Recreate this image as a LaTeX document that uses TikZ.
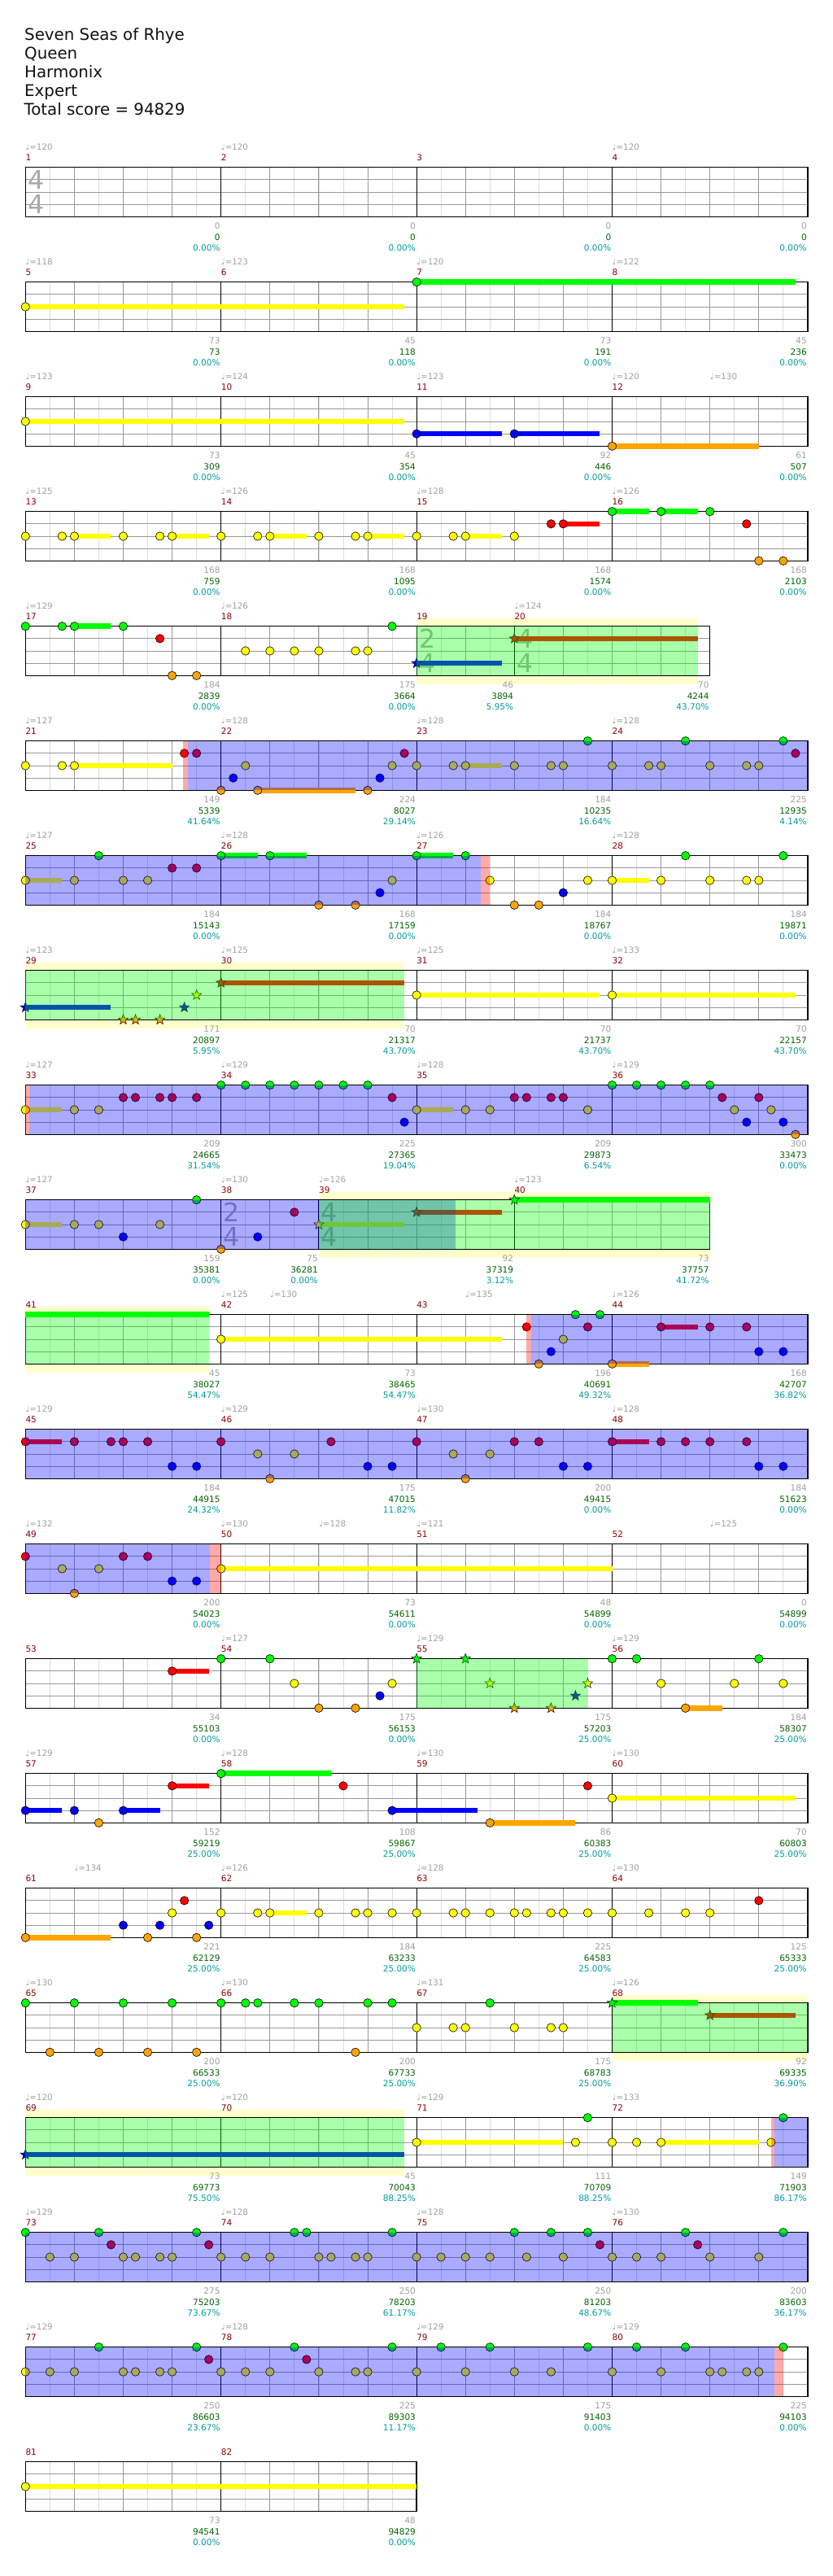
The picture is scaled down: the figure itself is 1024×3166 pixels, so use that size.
\documentclass[tikz,border=0pt]{standalone}
\usepackage{fontspec}
\usetikzlibrary{shapes.geometric}
\newfontfamily\dvs{DejaVu Sans}
\definecolor{lane0}{HTML}{00FF00}
\definecolor{lane1}{HTML}{FF0000}
\definecolor{lane2}{HTML}{FFFF00}
\definecolor{lane3}{HTML}{0000FF}
\definecolor{lane4}{HTML}{FFA500}
\definecolor{tempoc}{HTML}{A0A0A0}
\definecolor{mnumc}{HTML}{8B0000}
\definecolor{scorec}{HTML}{A0A0A0}
\definecolor{totc}{HTML}{006400}
\definecolor{pctc}{HTML}{009B9B}
\definecolor{bandc}{HTML}{FFFFCC}
\definecolor{tsc}{HTML}{AAAAAA}
\definecolor{eighthc}{HTML}{DCDCDC}
\definecolor{quarterc}{HTML}{999999}
\newcounter{nodeid}
\tikzset{
 autoname/.code={\stepcounter{nodeid}\edef\autonm{n\arabic{nodeid}}\pgfkeysalso{/tikz/name=\autonm}},
 rowat/.style={shift={(31.3pt,{-(205.7+141*(#1-1))*1pt})}, x=30.05pt, y=-15.15pt},
 hdr/.style={autoname, anchor=base west, inner sep=0pt, text=black!93, font=\dvs\fontsize{19.8}{23}\selectfont},
 small/.style={autoname, inner sep=0pt, font=\dvs\fontsize{10.5}{12}\selectfont},
 tempo/.style={small, anchor=base west, yshift=20.8pt, text=tempoc, font=\dvs\fontsize{10.3}{12}\selectfont},
 mnum/.style={small, anchor=base west, yshift=7.9pt, text=mnumc},
 scA/.style={small, anchor=base east, xshift=-1pt, yshift=-15.5pt, text=scorec},
 scB/.style={small, anchor=base east, xshift=-1pt, yshift=-28.8pt, text=totc},
 scC/.style={small, anchor=base east, xshift=-1pt, yshift=-41.8pt, text=pctc},
 tstop/.style={autoname, anchor=base west, inner sep=0pt, xshift=2.8pt, yshift=-26.6pt, text=tsc, font=\dvs\fontsize{31.6}{32}\selectfont},
 tsbot/.style={autoname, anchor=base west, inner sep=0pt, xshift=2.8pt, yshift=-56.6pt, text=tsc, font=\dvs\fontsize{31.6}{32}\selectfont},
 notec/.style={draw=black, line width=0.6pt},
 sust/.style={line width=6.5pt},
 starnote/.style={autoname, star, star points=5, star point ratio=2.4, draw=black, line width=0.5pt, inner sep=0pt, minimum size=13pt},
 eighthl/.style={eighthc, line width=0.8pt},
 quarterl/.style={quarterc, line width=0.9pt},
 lanel/.style={quarterc, line width=0.9pt},
 barl/.style={black, line width=0.9pt},
 borderl/.style={black, line width=1.3pt},
 ovl/.style={opacity=0.3333}
}
\newcommand\qN[2]{\filldraw[notec, fill=lane#2] (#1,#2) circle[radius=5.2pt];}
\newcommand\qS[3]{\draw[sust, lane#2] (#1,#2) -- (#3,#2);}
\newcommand\qNS[3]{\qS{#1}{#2}{#3}\qN{#1}{#2}}
\newcommand\qNL[2]{\foreach \p in {#2}{\qN{\p}{#1}}}
\newcommand\qSt[2]{\node[starnote, fill=lane#2] at (#1,#2) {};}
\newcommand\qSS[3]{\qS{#1}{#2}{#3}\qSt{#1}{#2}}
\newcommand\qB[2]{\fill[lane3, ovl] (#1,0) rectangle (#2,4);}
\newcommand\qG[2]{\fill[lane0, ovl] (#1,0) rectangle (#2,4);}
\newcommand\qP[2]{\fill[lane1, ovl] (#1,0) rectangle (#2,4);}
\newcommand\qY[2]{\fill[bandc] (#1,-0.66) rectangle (#2,4.69);}
\newcommand\qT[2]{\node[tempo] at (#1,0) {♩=#2};}
\newcommand\qM[2]{\node[mnum] at (#1,0) {#2};}
\newcommand\qL[4]{\node[scA] at (#1,4) {#2};\node[scB] at (#1,4) {#3};\node[scC] at (#1,4) {#4\%};}
\newcommand\qTS[2]{\node[tstop] at (#1,0) {#2};\node[tsbot] at (#1,0) {4};}
\newcommand\qStaff[2]{%
 \fill[white] (0,0) rectangle (#1,4);
 \pgfmathtruncatemacro\sLast{#1-1}%
 \foreach \i in {1,...,\sLast} {\draw[eighthl] (\i,0) -- (\i,4);}
 \pgfmathtruncatemacro\sLastQ{#1-2}%
 \foreach \i in {2,4,...,\sLastQ} {\draw[quarterl] (\i,0) -- (\i,4);}
 \foreach \i in {1,2,3} {\draw[lanel] (0,\i) -- (#1,\i);}
 \foreach \i in {#2} {\draw[barl] (\i,0) -- (\i,4);}
 \draw[borderl] (0,0) rectangle (#1,4);
}
\begin{document}
\begin{tikzpicture}
\useasboundingbox (0pt,0pt) rectangle (1024pt,-3166pt);
\fill[white] (0pt,0pt) rectangle (1024pt,-3166pt);
\node[hdr] at (30pt,-49.3pt) {Seven Seas of Rhye};
\node[hdr] at (30pt,-72.3pt) {Queen};
\node[hdr] at (30pt,-95.3pt) {Harmonix};
\node[hdr] at (30pt,-118.3pt) {Expert};
\node[hdr] at (29.3pt,-141.3pt) {Total score = 94829};
% row 1
\begin{scope}[rowat=1]
\qStaff{32}{8,16,24}
\qTS{0}{4}
\qT{0}{120}\qT{8}{120}\qT{24}{120}
\qM{0}{1}\qM{8}{2}\qM{16}{3}\qM{24}{4}
\qL{8}{0}{0}{0.00}\qL{16}{0}{0}{0.00}\qL{24}{0}{0}{0.00}\qL{32}{0}{0}{0.00}
\end{scope}
% row 2
\begin{scope}[rowat=2]
\qStaff{32}{8,16,24}
\qT{0}{118}\qT{8}{123}\qT{16}{120}\qT{24}{122}
\qM{0}{5}\qM{8}{6}\qM{16}{7}\qM{24}{8}
\qNS{0}{2}{15.5}\qNS{16}{0}{31.5}
\qL{8}{73}{73}{0.00}\qL{16}{45}{118}{0.00}\qL{24}{73}{191}{0.00}\qL{32}{45}{236}{0.00}
\end{scope}
% row 3
\begin{scope}[rowat=3]
\qStaff{32}{8,16,24}
\qT{0}{123}\qT{8}{124}\qT{16}{123}\qT{24}{120}\qT{28}{130}
\qM{0}{9}\qM{8}{10}\qM{16}{11}\qM{24}{12}
\qNS{0}{2}{15.5}\qNS{16}{3}{19.5}\qNS{20}{3}{23.5}\qNS{24}{4}{30}
\qL{8}{73}{309}{0.00}\qL{16}{45}{354}{0.00}\qL{24}{92}{446}{0.00}\qL{32}{61}{507}{0.00}
\end{scope}
% row 4
\begin{scope}[rowat=4]
\qStaff{32}{8,16,24}
\qT{0}{125}\qT{8}{126}\qT{16}{128}\qT{24}{126}
\qM{0}{13}\qM{8}{14}\qM{16}{15}\qM{24}{16}
\qS{2}{2}{3.5}\qS{6}{2}{7.5}\qS{10}{2}{11.5}\qS{14}{2}{15.5}\qS{18}{2}{19.5}\qS{22}{1}{23.5}\qS{24}{0}{25.5}\qS{26}{0}{27.5}
\qNL{2}{0,1.5,2,4,5.5,6,8,9.5,10,12,13.5,14,16,17.5,18,20}
\qNL{1}{21.5,22,29.5}
\qNL{0}{24,26,28}
\qNL{4}{30,31}
\qL{8}{168}{759}{0.00}\qL{16}{168}{1095}{0.00}\qL{24}{168}{1574}{0.00}\qL{32}{168}{2103}{0.00}
\end{scope}
% row 5
\begin{scope}[rowat=5]
\qY{16}{27.5}
\qStaff{28}{8,16,20}
\qTS{16}{2}\qTS{20}{4}
\qT{0}{129}\qT{8}{126}\qT{20}{124}
\qM{0}{17}\qM{8}{18}\qM{16}{19}\qM{20}{20}
\qS{2}{0}{3.5}
\qNL{0}{0,1.5,2,4,15}\qNL{1}{5.5}\qNL{2}{9,10,11,12,13.5,14}\qNL{4}{6,7}
\qSS{16}{3}{19.5}\qSS{20}{1}{27.5}
\qG{16}{27.5}
\qL{8}{184}{2839}{0.00}\qL{16}{175}{3664}{0.00}\qL{20}{46}{3894}{5.95}\qL{28}{70}{4244}{43.70}
\end{scope}
% row 6
\begin{scope}[rowat=6]
\qStaff{32}{8,16,24}
\qT{0}{127}\qT{8}{128}\qT{16}{128}\qT{24}{128}
\qM{0}{21}\qM{8}{22}\qM{16}{23}\qM{24}{24}
\qS{2}{2}{6}\qS{9.5}{4}{13.5}\qS{18}{2}{19.5}
\qNL{2}{0,1.5,2,9,15,16,17.5,18,20,21.5,22,24,25.5,26,28,29.5,30}
\qNL{1}{6.5,7,15.5,31.5}
\qNL{3}{8.5,14.5}
\qNL{4}{8,9.5,14}
\qNL{0}{23,27,31}
\qP{6.45}{6.64}\qB{6.64}{32}
\qL{8}{149}{5339}{41.64}\qL{16}{224}{8027}{29.14}\qL{24}{184}{10235}{16.64}\qL{32}{225}{12935}{4.14}
\end{scope}
% row 7
\begin{scope}[rowat=7]
\qStaff{32}{8,16,24}
\qT{0}{127}\qT{8}{128}\qT{16}{126}\qT{24}{128}
\qM{0}{25}\qM{8}{26}\qM{16}{27}\qM{24}{28}
\qS{0}{2}{1.5}\qS{8}{0}{9.5}\qS{10}{0}{11.5}\qS{16}{0}{17.5}\qS{24}{2}{25.5}
\qNL{2}{0,2,4,5,15,19,23,24,26,28,29.5,30}
\qNL{0}{3,8,10,16,18,27,31}
\qNL{1}{6,7}
\qNL{4}{12,13.5,20,21}
\qNL{3}{14.5,22}
\qB{0}{18.61}\qP{18.61}{18.98}
\qL{8}{184}{15143}{0.00}\qL{16}{168}{17159}{0.00}\qL{24}{184}{18767}{0.00}\qL{32}{184}{19871}{0.00}
\end{scope}
% row 8
\begin{scope}[rowat=8]
\qY{0}{15.5}
\qStaff{32}{8,16,24}
\qT{0}{123}\qT{8}{125}\qT{16}{125}\qT{24}{133}
\qM{0}{29}\qM{8}{30}\qM{16}{31}\qM{24}{32}
\qSS{0}{3}{3.5}\qSt{4}{4}\qSt{4.5}{4}\qSt{5.5}{4}\qSt{6.5}{3}\qSt{7}{2}\qSS{8}{1}{15.5}
\qNS{16}{2}{23.5}\qNS{24}{2}{31.5}
\qG{0}{15.5}
\qL{8}{171}{20897}{5.95}\qL{16}{70}{21317}{43.70}\qL{24}{70}{21737}{43.70}\qL{32}{70}{22157}{43.70}
\end{scope}
% row 9
\begin{scope}[rowat=9]
\qStaff{32}{8,16,24}
\qT{0}{127}\qT{8}{129}\qT{16}{128}\qT{24}{129}
\qM{0}{33}\qM{8}{34}\qM{16}{35}\qM{24}{36}
\qS{0}{2}{1.5}\qS{16}{2}{17.5}
\qNL{2}{0,2,3,16,18,19,23,29,30.5}
\qNL{1}{4,4.5,5.5,6,7,15,20,20.5,21.5,22,28.5,30}
\qNL{0}{8,9,10,11,12,13,14,24,25,26,27,28}
\qNL{3}{15.5,29.5,31}
\qNL{4}{31.5}
\qP{0}{0.15}\qB{0.15}{32}
\qL{8}{209}{24665}{31.54}\qL{16}{225}{27365}{19.04}\qL{24}{209}{29873}{6.54}\qL{32}{300}{33473}{0.00}
\end{scope}
% row 10
\begin{scope}[rowat=10]
\qY{12}{28}
\qStaff{28}{8,12,20}
\qTS{8}{2}\qTS{12}{4}
\qT{0}{127}\qT{8}{130}\qT{12}{126}\qT{20}{123}
\qM{0}{37}\qM{8}{38}\qM{12}{39}\qM{20}{40}
\qS{0}{2}{1.5}
\qNL{2}{0,2,3,5.5}\qNL{3}{4,9.5}\qNL{0}{7}\qNL{4}{8}\qNL{1}{11}
\qSS{12}{2}{15.5}\qSS{16}{1}{19.5}\qSS{20}{0}{28}
\qB{0}{17.6}\qG{12}{28}
\qL{8}{159}{35381}{0.00}\qL{12}{75}{36281}{0.00}\qL{20}{92}{37319}{3.12}\qL{28}{73}{37757}{41.72}
\end{scope}
% row 11
\begin{scope}[rowat=11]
\qY{0}{7.5}
\qStaff{32}{8,16,24}
\qT{8}{125}\qT{10}{130}\qT{18}{135}\qT{24}{126}
\qM{0}{41}\qM{8}{42}\qM{16}{43}\qM{24}{44}
\qS{0}{0}{7.5}\qS{8}{2}{19.5}\qS{24}{4}{25.5}\qS{26}{1}{27.5}
\qNL{1}{20.5,23,26,28,29.5}\qNL{4}{21,24}\qNL{3}{21.5,30,31}\qNL{2}{8,22}\qNL{0}{22.5,23.5}
\qG{0}{7.5}\qP{20.5}{20.68}\qB{20.68}{32}
\qL{8}{45}{38027}{54.47}\qL{16}{73}{38465}{54.47}\qL{24}{196}{40691}{49.32}\qL{32}{168}{42707}{36.82}
\end{scope}
% row 12
\begin{scope}[rowat=12]
\qStaff{32}{8,16,24}
\qT{0}{129}\qT{8}{129}\qT{16}{130}\qT{24}{128}
\qM{0}{45}\qM{8}{46}\qM{16}{47}\qM{24}{48}
\qS{0}{1}{1.5}\qS{24}{1}{25.5}
\qNL{1}{0,2,3.5,4,5,8,12.5,16,20,21,24,26,27,28,29.5}
\qNL{3}{6,7,14,15,22,23,30,31}
\qNL{2}{9.5,11,17.5,19}
\qNL{4}{10,18}
\qB{0}{32}
\qL{8}{184}{44915}{24.32}\qL{16}{175}{47015}{11.82}\qL{24}{200}{49415}{0.00}\qL{32}{184}{51623}{0.00}
\end{scope}
% row 13
\begin{scope}[rowat=13]
\qStaff{32}{8,16,24}
\qT{0}{132}\qT{8}{130}\qT{12}{128}\qT{16}{121}\qT{28}{125}
\qM{0}{49}\qM{8}{50}\qM{16}{51}\qM{24}{52}
\qS{8}{2}{24}
\qNL{1}{0,4,5}\qNL{2}{1.5,3,8}\qNL{4}{2}\qNL{3}{6,7}
\qB{0}{7.55}\qP{7.55}{8}
\qL{8}{200}{54023}{0.00}\qL{16}{73}{54611}{0.00}\qL{24}{48}{54899}{0.00}\qL{32}{0}{54899}{0.00}
\end{scope}
% row 14
\begin{scope}[rowat=14]
\qStaff{32}{8,16,24}
\qT{8}{127}\qT{16}{129}\qT{24}{129}
\qM{0}{53}\qM{8}{54}\qM{16}{55}\qM{24}{56}
\qS{6}{1}{7.5}\qS{27}{4}{28.5}
\qNL{1}{6}\qNL{0}{8,10,24,25,30}\qNL{2}{11,15,26,29,31}\qNL{4}{12,13.5,27}\qNL{3}{14.5}
\qSt{16}{0}\qSt{18}{0}\qSt{19}{2}\qSt{20}{4}\qSt{21.5}{4}\qSt{22.5}{3}\qSt{23}{2}
\qG{16}{23}
\qL{8}{34}{55103}{0.00}\qL{16}{175}{56153}{0.00}\qL{24}{175}{57203}{25.00}\qL{32}{184}{58307}{25.00}
\end{scope}
% row 15
\begin{scope}[rowat=15]
\qStaff{32}{8,16,24}
\qT{0}{129}\qT{8}{128}\qT{16}{130}\qT{24}{130}
\qM{0}{57}\qM{8}{58}\qM{16}{59}\qM{24}{60}
\qS{0}{3}{1.5}\qS{4}{3}{5.5}\qS{6}{1}{7.5}\qS{8}{0}{12.5}\qS{15}{3}{18.5}\qS{19}{4}{22.5}\qS{24}{2}{31.5}
\qNL{3}{0,2,4,15}\qNL{4}{3,19}\qNL{1}{6,13,23}\qNL{0}{8}\qNL{2}{24}
\qL{8}{152}{59219}{25.00}\qL{16}{108}{59867}{25.00}\qL{24}{86}{60383}{25.00}\qL{32}{70}{60803}{25.00}
\end{scope}
% row 16
\begin{scope}[rowat=16]
\qStaff{32}{8,16,24}
\qT{2}{134}\qT{8}{126}\qT{16}{128}\qT{24}{130}
\qM{0}{61}\qM{8}{62}\qM{16}{63}\qM{24}{64}
\qS{0}{4}{3.5}\qS{10}{2}{11.5}
\qNL{4}{0,5,7}\qNL{3}{4,5.5,7.5}
\qNL{2}{6,8,9.5,10,12,13.5,14,15,16,17.5,18,19,20,20.5,21.5,22,23,24,25.5,27,28}
\qNL{1}{6.5,30}
\qL{8}{221}{62129}{25.00}\qL{16}{184}{63233}{25.00}\qL{24}{225}{64583}{25.00}\qL{32}{125}{65333}{25.00}
\end{scope}
% row 17
\begin{scope}[rowat=17]
\qY{24}{32}
\qStaff{32}{8,16,24}
\qT{0}{130}\qT{8}{130}\qT{16}{131}\qT{24}{126}
\qM{0}{65}\qM{8}{66}\qM{16}{67}\qM{24}{68}
\qNL{0}{0,2,4,6,8,9,9.5,11,12,14,15,19}\qNL{4}{1,3,5,7,13.5}\qNL{2}{16,17.5,18,20,21.5,22}
\qSS{24}{0}{27.5}\qSS{28}{1}{31.5}
\qG{24}{32}
\qL{8}{200}{66533}{25.00}\qL{16}{200}{67733}{25.00}\qL{24}{175}{68783}{25.00}\qL{32}{92}{69335}{36.90}
\end{scope}
% row 18
\begin{scope}[rowat=18]
\qY{0}{15.5}
\qStaff{32}{8,16,24}
\qT{0}{120}\qT{8}{120}\qT{16}{129}\qT{24}{133}
\qM{0}{69}\qM{8}{70}\qM{16}{71}\qM{24}{72}
\qSS{0}{3}{15.5}
\qS{16}{2}{22}\qS{26}{2}{30}
\qNL{2}{16,22.5,24,25,26,30.5}\qNL{0}{23,31}
\qG{0}{15.5}\qP{30.5}{30.65}\qB{30.65}{32}
\qL{8}{73}{69773}{75.50}\qL{16}{45}{70043}{88.25}\qL{24}{111}{70709}{88.25}\qL{32}{149}{71903}{86.17}
\end{scope}
% row 19
\begin{scope}[rowat=19]
\qStaff{32}{8,16,24}
\qT{0}{129}\qT{8}{128}\qT{16}{128}\qT{24}{130}
\qM{0}{73}\qM{8}{74}\qM{16}{75}\qM{24}{76}
\qNL{0}{0,3,7,11,11.5,15,20,21.5,23,27,31}
\qNL{1}{3.5,7.5,23.5,27.5}
\qNL{2}{1,2,4,4.5,5.5,6,8,9,10,12,12.5,13.5,14,16,17,18,19,20.5,22,24,25,26,28,30}
\qB{0}{32}
\qL{8}{275}{75203}{73.67}\qL{16}{250}{78203}{61.17}\qL{24}{250}{81203}{48.67}\qL{32}{200}{83603}{36.17}
\end{scope}
% row 20
\begin{scope}[rowat=20]
\qStaff{32}{8,16,24}
\qT{0}{129}\qT{8}{128}\qT{16}{129}\qT{24}{129}
\qM{0}{77}\qM{8}{78}\qM{16}{79}\qM{24}{80}
\qNL{2}{0,1,2,4,4.5,5.5,6,8,9,10,12,13.5,14,16,18,20,21.5,24,26,28,28.5,29.5,30}
\qNL{0}{3,7,11,15,17,19,23,25,27,31}
\qNL{1}{7.5,11.5}
\qB{0}{30.65}\qP{30.65}{31}
\qL{8}{250}{86603}{23.67}\qL{16}{225}{89303}{11.17}\qL{24}{175}{91403}{0.00}\qL{32}{225}{94103}{0.00}
\end{scope}
% row 21
\begin{scope}[rowat=21]
\qStaff{16}{8}
\qM{0}{81}\qM{8}{82}
\qNS{0}{2}{16}
\qL{8}{73}{94541}{0.00}\qL{16}{48}{94829}{0.00}
\end{scope}
\end{tikzpicture}
\end{document}
